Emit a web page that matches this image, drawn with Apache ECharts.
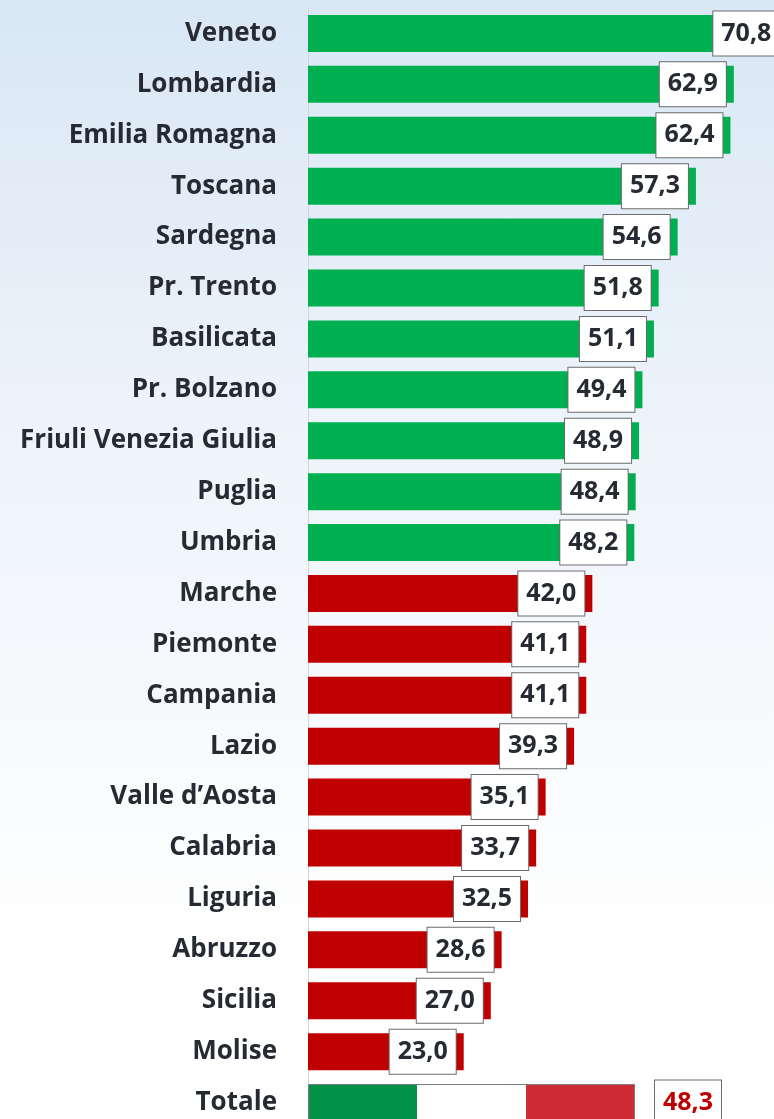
<!DOCTYPE html>
<html>
<head>
<meta charset="utf-8">
<script src="https://cdn.jsdelivr.net/npm/echarts@6/dist/echarts.min.js"></script>
<style>
  html, body { margin: 0; padding: 0; overflow: hidden; width: 774px; height: 1119px; }
  body { background: linear-gradient(to bottom, #d9e7f5 0%, #eef4fa 40%, #ffffff 85%); }
  #chart { width: 860px; height: 1130px; }
</style>
</head>
<body>
<div id="chart"></div>
<script>
// regioni, dall'alto in basso
const regions = ['Veneto', 'Lombardia', 'Emilia Romagna', 'Toscana', 'Sardegna', 'Pr. Trento',
  'Basilicata', 'Pr. Bolzano', 'Friuli Venezia Giulia', 'Puglia', 'Umbria', 'Marche',
  'Piemonte', 'Campania', 'Lazio', 'Valle d\u2019Aosta', 'Calabria', 'Liguria', 'Abruzzo',
  'Sicilia', 'Molise', 'Totale']
const values = [70.8, 62.9, 62.4, 57.3, 54.6, 51.8, 51.1, 49.4, 48.9, 48.4, 48.2, 42.0,
  41.1, 41.1, 39.3, 35.1, 33.7, 32.5, 28.6, 27.0, 23.0, 48.3]
// gruppo: 'v' = verde, 'r' = rosso, 't' = totale
const groups = ['v', 'v', 'v', 'v', 'v', 'v', 'v', 'v', 'v', 'v', 'v', 'r',
  'r', 'r', 'r', 'r', 'r', 'r', 'r', 'r', 'r', 't']

const fmt = v => v.toFixed(1).replace('.', ',')

const boxLabel = {
  show: true,
  position: 'insideRight',
  distance: 8,
  formatter: p => fmt(p.value),
  fontFamily: 'Open Sans',
  fontWeight: 'bold',
  fontSize: 25,
  color: '#262b33',
  backgroundColor: '#ffffff',
  borderColor: '#6b6b6b',
  borderWidth: 1,
  padding: [5, 8, 5, 8],
  lineHeight: 34
}

const barData = values.map((v, i) => {
  if (groups[i] === 't') {
    return {
      value: v,
      itemStyle: {
        color: new echarts.graphic.LinearGradient(0, 0, 1, 0, [
          { offset: 0, color: '#009246' },
          { offset: 0.333, color: '#009246' },
          { offset: 0.333, color: '#ffffff' },
          { offset: 0.667, color: '#ffffff' },
          { offset: 0.667, color: '#ce2b37' },
          { offset: 1, color: '#ce2b37' }
        ]),
        borderColor: '#7a7a7a',
        borderWidth: 1
      },
      label: Object.assign({}, boxLabel, {
        position: 'right',
        distance: 20,
        color: '#c00000'
      })
    }
  }
  return {
    value: v,
    itemStyle: { color: groups[i] === 'v' ? '#00b050' : '#c00000' }
  }
})

let chart = echarts.init(document.getElementById('chart'))
chart.setOption({
  animation: false,
  grid: { left: 308, top: 8, width: 541.6, height: 1120 },
  xAxis: {
    type: 'value',
    min: 0,
    max: 80,
    show: false
  },
  yAxis: {
    type: 'category',
    inverse: true,
    data: regions,
    axisLine: { show: true, lineStyle: { color: '#d4d4d4', width: 1 } },
    axisTick: { show: false },
    axisLabel: {
      margin: 31,
      padding: [4, 0, 0, 0],
      fontFamily: 'Open Sans',
      fontWeight: 'bold',
      fontSize: 26,
      color: '#262b33'
    }
  },
  series: [{
    type: 'bar',
    barWidth: 37,
    data: barData,
    label: boxLabel
  }]
})
</script>
</body>
</html>
